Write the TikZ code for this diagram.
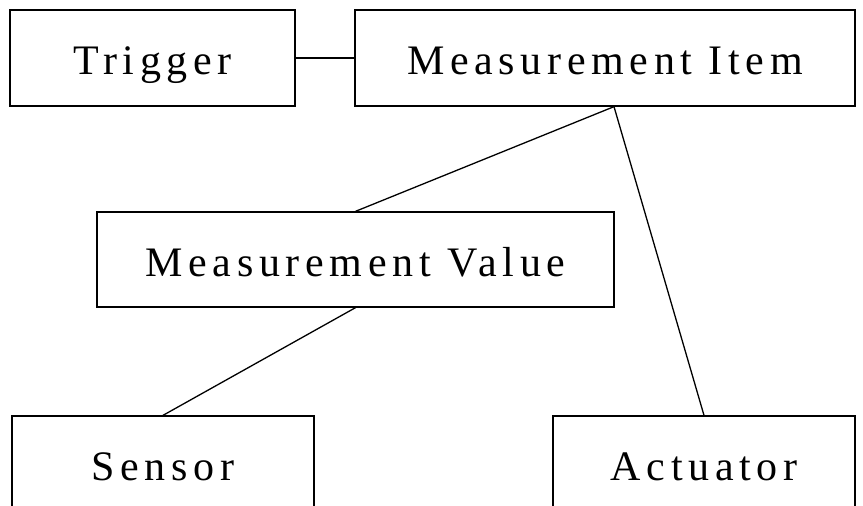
\documentclass[tikz,border=0pt]{standalone}
\usepackage{fontspec}
\setmainfont{Liberation Serif}[LetterSpace=13.5]
\begin{document}
\begin{tikzpicture}[x=1pt,y=-1pt,
  box/.style={draw, line width=1.3pt, inner sep=0pt, text height=33pt, text depth=0pt,
    font=\fontsize{42}{50}\selectfont},
  link/.style={line width=1.3pt}]
\useasboundingbox (0,0) rectangle (863,506);
\clip (0,0) rectangle (863,506);
\node[box, minimum width=285pt, minimum height=96pt] (trig) at (152.5,58) {Trigger};
\node[box, minimum width=500pt, minimum height=96pt] (item) at (605,58) {Measurement Item};
\node[box, minimum width=517pt, minimum height=95pt] (val) at (355.5,259.5) {Measurement Value};
\node[box, minimum width=302pt, minimum height=96pt] (sens) at (163,464) {Sensor};
\node[box, minimum width=302pt, minimum height=96pt] (act) at (704,464) {Actuator};
\draw[link] (trig.east) -- (item.west);
\draw[link] ([xshift=9pt]item.south) -- (val.north);
\draw[link] ([xshift=9pt]item.south) -- (act.north);
\draw[link] (val.south) -- (sens.north);
\end{tikzpicture}
\end{document}
